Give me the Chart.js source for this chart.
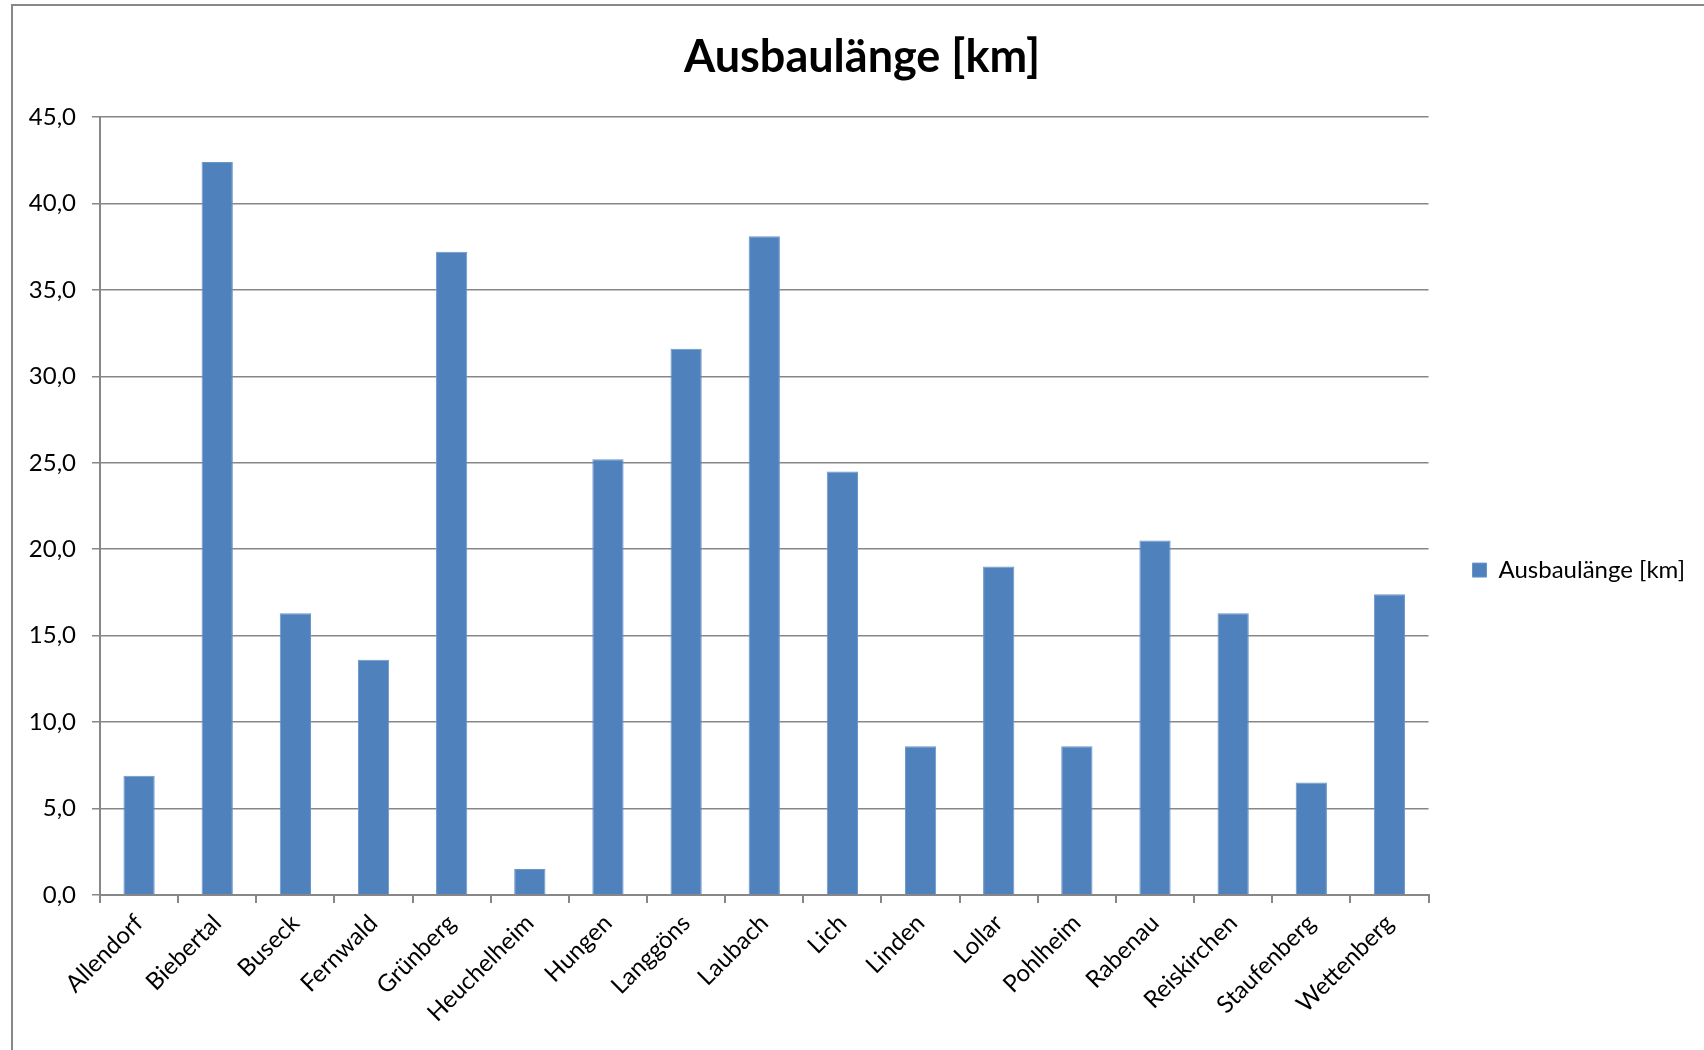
<!DOCTYPE html>
<html>
<head>
    <meta charset="utf-8">
    <title>Ausbaulänge [km]</title>
    <style>
        body { margin: 0; background: #fff; }
        .frame {
            position: absolute;
            left: 11px;
            top: 4px;
            width: 2000px;
            height: 2000px;
            border: 2px solid #878787;
        }
        .chart-container {
            position: absolute;
            left: 0;
            top: 0;
            width: 1704px;
            height: 1050px;
        }
    </style>
    <script src="https://cdn.jsdelivr.net/npm/chart.js"></script>
</head>
<body>
    <div class="frame"></div>
    <div class="chart-container">
        <canvas id="chart1" width="1704" height="1050"></canvas>
    </div>
    <script>
        const gemeinden = ['Allendorf', 'Biebertal', 'Buseck', 'Fernwald', 'Grünberg', 'Heuchelheim', 'Hungen',
            'Langgöns', 'Laubach', 'Lich', 'Linden', 'Lollar', 'Pohlheim', 'Rabenau', 'Reiskirchen',
            'Staufenberg', 'Wettenberg'];
        const ausbaulaenge = [6.9, 42.4, 16.3, 13.6, 37.2, 1.5, 25.2, 31.6, 38.1, 24.5, 8.6, 19.0, 8.6, 20.5, 16.3, 6.5, 17.4];
        const seriesName = 'Ausbaulänge [km]';
        const yTicks = [0, 5, 10, 15, 20, 25, 30, 35, 40, 45];

        const font = 'Lato, "Liberation Sans", sans-serif';
        const gray = '#878787';

        const ctx1 = document.getElementById('chart1').getContext('2d');

        const chart1 = new Chart(ctx1, {
            type: 'bar',
            data: {
                labels: gemeinden,
                datasets: [{
                    label: seriesName,
                    data: ausbaulaenge,
                    backgroundColor: '#4F81BD',
                    borderColor: '#6a95c9',
                    borderWidth: 1,
                    categoryPercentage: 1.0,
                    barPercentage: 0.4
                }]
            },
            options: {
                responsive: false,
                animation: false,
                devicePixelRatio: 1,
                // left padding nudges the title to the right, y axis width makes up for it
                layout: { padding: { left: 29, right: 9, top: 0, bottom: 0 } },
                plugins: {
                    title: {
                        display: true,
                        text: seriesName,
                        color: '#000',
                        font: { family: font, size: 45, weight: 'bold' },
                        padding: { top: 30, bottom: 33 }
                    },
                    legend: {
                        position: 'right',
                        maxWidth: 275,
                        title: { display: true, text: '', font: { size: 1 }, padding: { top: 89, bottom: 0 } },
                        labels: {
                            color: '#000',
                            font: { family: font, size: 24 },
                            boxWidth: 14,
                            boxHeight: 14,
                            padding: 44
                        }
                    },
                    tooltip: { enabled: false }
                },
                scales: {
                    x: {
                        afterFit(scale) { scale.height = 155; },
                        grid: {
                            offset: true,
                            drawOnChartArea: false,
                            drawTicks: true,
                            tickLength: 8,
                            color: gray,
                            lineWidth: 2
                        },
                        border: { color: gray, width: 2 },
                        ticks: {
                            color: '#000',
                            font: { family: font, size: 24 },
                            minRotation: 45,
                            maxRotation: 45,
                            autoSkip: false,
                            padding: 6
                        }
                    },
                    y: {
                        min: 0,
                        max: 45,
                        afterFit(scale) { scale.width = 71; },
                        afterBuildTicks(scale) { scale.ticks = yTicks.map(v => ({ value: v })); },
                        grid: {
                            color: gray,
                            lineWidth: 1.5,
                            tickLength: 8
                        },
                        border: { color: gray, width: 2 },
                        ticks: {
                            color: '#000',
                            font: { family: font, size: 24 },
                            padding: 16,
                            callback: v => v.toFixed(1).replace('.', ',')
                        }
                    }
                }
            }
        });
    </script>
</body>
</html>
